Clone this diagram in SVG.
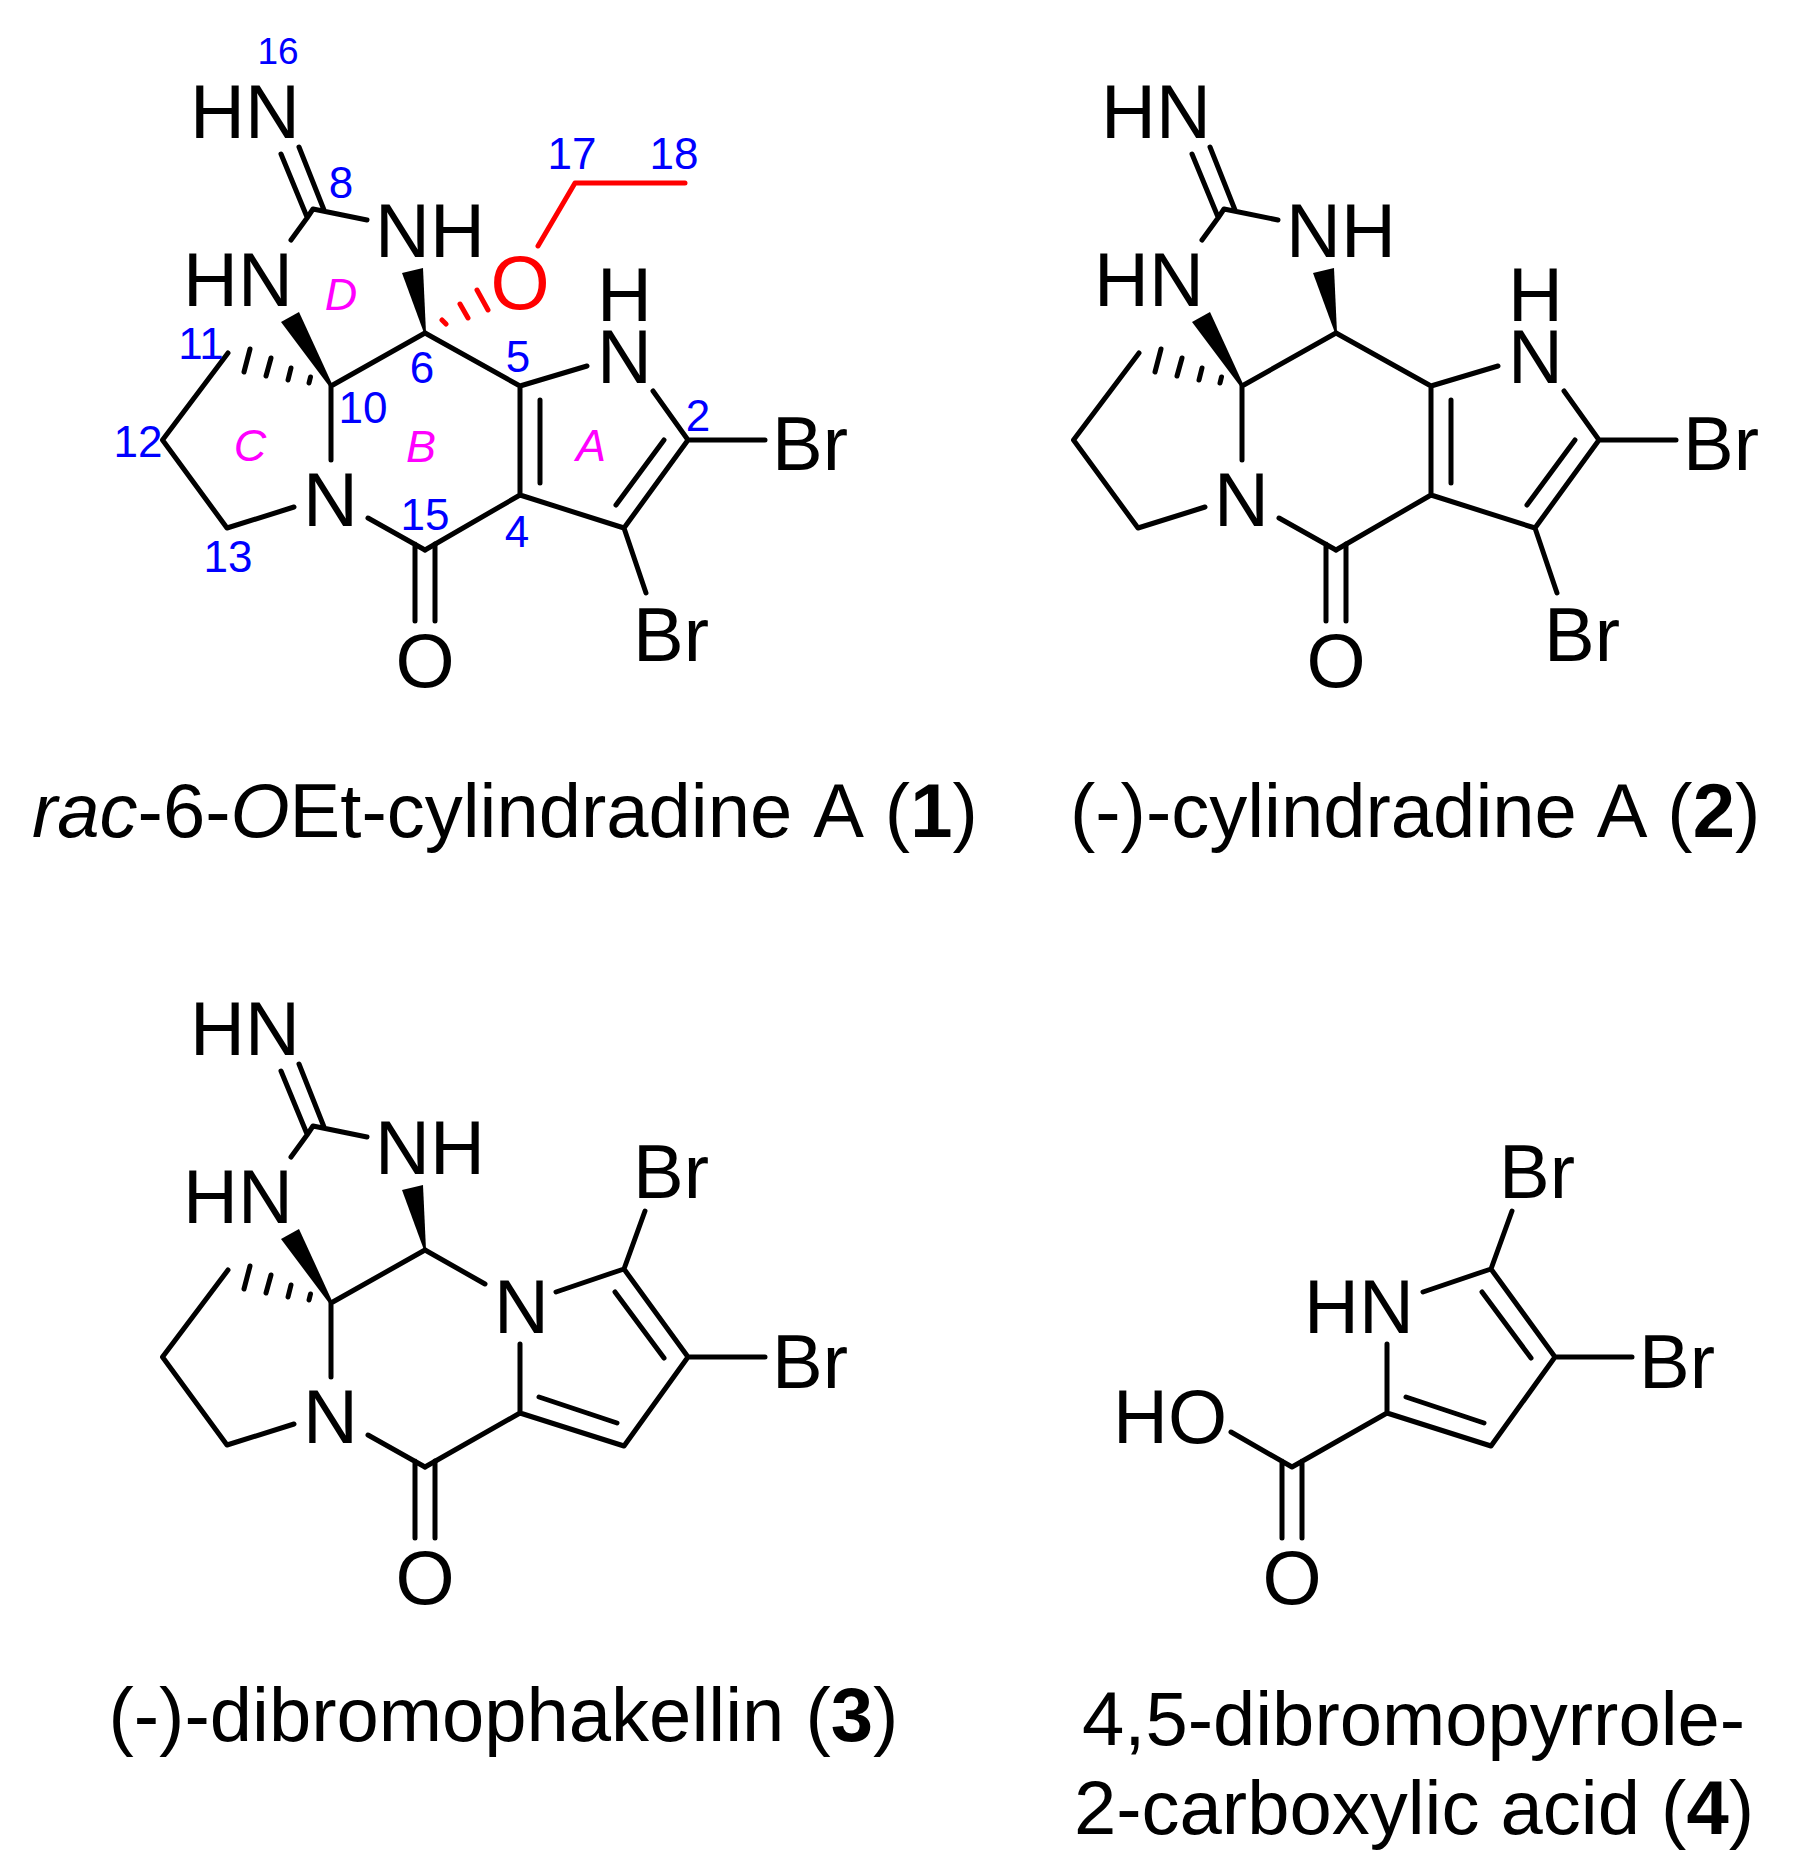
<svg xmlns="http://www.w3.org/2000/svg" width="1797" height="1869" viewBox="0 0 1797 1869">
<style>
text{font-family:"Liberation Sans",Arial,sans-serif;fill:#000}
.a{font-size:76px}
.m{text-anchor:middle}
.n{font-size:44px;fill:#00f;text-anchor:middle}
.r{font-size:45px;fill:#f0f;font-style:italic;text-anchor:middle}
.c{font-size:76px}
.i{font-style:italic}
.b{font-weight:bold}
.bonds path{fill:none;stroke:#000;stroke-width:5;stroke-linecap:round;stroke-linejoin:round}
.bonds polygon{fill:#000}
.bonds path.red{stroke:#f00}
</style>
<defs>
<g id="cage" class="bonds">
<path d="M281 154L307 217M299 147L324 210M291 240L307 218L313 209L367 220"/>
<polygon points="402,273 423,268 426,333 424,333"/>
<polygon points="281,322 299,312 333,386 329,386"/>
<path d="M331 386L425 333M331 386V460M294 507L227 528L162.500 440L228 353"/>
<path d="M310.500 377L309 383M291 368L288 380M271 358L266 376M250 349L244 372"/>
<path d="M368 518L425 550M415 544V621M435 544V621"/>
</g>
<g id="ring1" class="bonds">
<path d="M425 333L520 386V495L425 550M540 400V483M520 386L587 366M653 391L688 440L624 528L520 495M664 440L616 505M688 440H765M624 528L646 593"/>
</g>
</defs>
<g id="connectors">
<g id="bonds-1"><use href="#cage"/><use href="#ring1"/>
<g class="bonds"><path class="red" d="M442 320L446 324M460 304L468 318M477 290L488 310M538 246L575 183H685"/></g></g>
<g id="bonds-2" transform="translate(911 0)"><use href="#cage"/><use href="#ring1"/></g>
<g id="bonds-3"><g transform="translate(0 917)"><use href="#cage"/></g>
<g class="bonds"><path d="M425 1250L485 1284M556 1292L624 1269L688 1357L624 1446L520 1413L425 1467M520 1344V1413M615 1292L664 1358M539 1397L617 1423M624 1269L645 1211M688 1357H765"/></g></g>
<g id="bonds-4" class="bonds"><path d="M1387 1344V1413L1491 1446L1555 1357L1491 1269L1423 1292M1482 1292L1531 1358M1406 1397L1484 1423M1491 1269L1512 1211M1555 1357H1632M1387 1413L1292 1467L1231 1432M1282 1461V1538M1302 1461V1538"/></g>
</g>
<g id="compound-1">
<text class="a" x="190" y="138">HN</text>
<text class="a" x="183" y="306">HN</text>
<text class="a" x="375" y="257">NH</text>
<text class="a" x="303" y="526">N</text>
<text class="a" x="597" y="321">H</text>
<text class="a" x="597" y="383">N</text>
<text class="a" x="772" y="470">Br</text>
<text class="a" x="633" y="661">Br</text>
<text class="a m" x="425" y="687">O</text>
<text class="a m" x="520" y="309" style="fill:#f00">O</text>
<text class="n" x="278" y="64" style="font-size:37px">16</text>
<text class="n" x="341" y="198">8</text>
<text class="n" x="572" y="169">17</text>
<text class="n" x="674" y="169">18</text>
<text class="n" x="201" y="359">11</text>
<text class="n" x="138" y="457">12</text>
<text class="n" x="228" y="572">13</text>
<text class="n" x="363" y="423">10</text>
<text class="n" x="422" y="383">6</text>
<text class="n" x="518" y="372">5</text>
<text class="n" x="425" y="530">15</text>
<text class="n" x="517" y="547">4</text>
<text class="n" x="698" y="431">2</text>
<text class="r" x="591" y="461">A</text>
<text class="r" x="421" y="462">B</text>
<text class="r" x="250" y="461">C</text>
<text class="r" x="341" y="310">D</text>
<text class="c" x="32" y="837" style="word-spacing:4px"><tspan class="i">rac</tspan>-6-<tspan class="i">O</tspan>Et-cylindradine A (<tspan class="b">1</tspan>)</text>
</g>
<g id="compound-2">
<text class="a" x="1101" y="138">HN</text>
<text class="a" x="1094" y="306">HN</text>
<text class="a" x="1286" y="257">NH</text>
<text class="a" x="1214" y="526">N</text>
<text class="a" x="1508" y="321">H</text>
<text class="a" x="1508" y="383">N</text>
<text class="a" x="1683" y="470">Br</text>
<text class="a" x="1544" y="661">Br</text>
<text class="a m" x="1336" y="687">O</text>
<text class="c" x="1070" y="837" style="word-spacing:3px">(-)-cylindradine A (<tspan class="b">2</tspan>)</text>
</g>
<g id="compound-3">
<text class="a" x="190" y="1055">HN</text>
<text class="a" x="183" y="1223">HN</text>
<text class="a" x="375" y="1174">NH</text>
<text class="a" x="303" y="1443">N</text>
<text class="a" x="494" y="1333">N</text>
<text class="a" x="633" y="1198">Br</text>
<text class="a" x="772" y="1388">Br</text>
<text class="a m" x="425" y="1604">O</text>
<text class="c" x="108.500" y="1741">(-)-dibromophakellin (<tspan class="b">3</tspan>)</text>
</g>
<g id="compound-4">
<text class="a" x="1304" y="1333">HN</text>
<text class="a" x="1499" y="1198">Br</text>
<text class="a" x="1639" y="1388">Br</text>
<text class="a" x="1113" y="1443">HO</text>
<text class="a m" x="1292" y="1604">O</text>
<text class="c" x="1082" y="1745">4,5-dibromopyrrole-</text>
<text class="c" x="1074" y="1834">2-carboxylic acid (<tspan class="b">4</tspan>)</text>
</g>
</svg>
